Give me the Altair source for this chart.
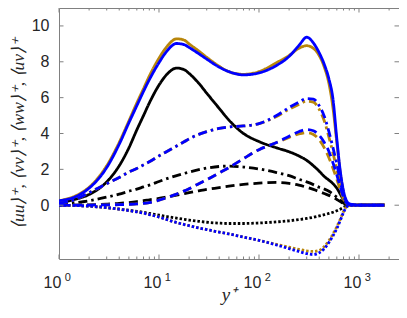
import altair as alt
import pandas as pd

# ---------------- data ----------------
yplus = [1, 1.5, 2, 3, 4, 5, 6, 7, 8, 10, 12, 15, 18, 20, 25, 30, 40, 50, 70, 100,
         150, 200, 250, 300, 350, 400, 450, 500, 550, 600, 650, 700, 750, 800, 900,
         1000, 1200, 1500, 1800]

# black
uu_k = [0.15, 0.35, 0.6, 1.3, 2.2, 3.2, 4.2, 5.0, 5.7, 6.7, 7.3, 7.65, 7.55, 7.35, 6.8, 6.25, 5.4, 4.75, 4.0, 3.55,
        3.2, 2.98, 2.75, 2.5, 2.2, 1.9, 1.6, 1.4, 1.2, 0.95, 0.62, 0.3, 0.08, 0.01, 0, 0, 0, 0, 0]
vv_k = [0, 0.01, 0.02, 0.06, 0.1, 0.15, 0.2, 0.25, 0.3, 0.38, 0.46, 0.56, 0.65, 0.7, 0.8, 0.88, 0.98, 1.06, 1.16, 1.23,
        1.27, 1.22, 1.12, 1.0, 0.88, 0.76, 0.65, 0.55, 0.43, 0.32, 0.2, 0.08, 0.02, 0, 0, 0, 0, 0, 0]
ww_k = [0.05, 0.15, 0.25, 0.45, 0.62, 0.78, 0.9, 1.02, 1.12, 1.32, 1.48, 1.65, 1.78, 1.85, 1.98, 2.07, 2.16, 2.18, 2.13, 2.02,
        1.82, 1.65, 1.45, 1.3, 1.15, 1.0, 0.9, 0.78, 0.62, 0.45, 0.28, 0.12, 0.03, 0, 0, 0, 0, 0, 0]
uv_k = [0, -0.02, -0.05, -0.14, -0.22, -0.28, -0.34, -0.4, -0.46, -0.55, -0.63, -0.72, -0.79, -0.83, -0.9, -0.95, -1.0, -1.02, -1.02, -0.99,
        -0.93, -0.87, -0.8, -0.74, -0.67, -0.6, -0.53, -0.46, -0.39, -0.31, -0.22, -0.12, -0.04, 0, 0, 0, 0, 0, 0]

# brown
uu_b = [0.25, 0.55, 1.0, 2.2, 3.5, 4.7, 5.7, 6.5, 7.2, 8.2, 8.85, 9.28, 9.2, 9.0, 8.6, 8.25, 7.75, 7.45, 7.3, 7.45,
        7.95, 8.35, 8.75, 8.9, 8.75, 8.35, 7.7, 6.8, 5.4, 3.5, 1.8, 0.7, 0.2, 0.06, 0.02, 0, 0, 0, 0]
vv_b = [0, 0, 0.01, 0.02, 0.03, 0.05, 0.07, 0.1, 0.15, 0.28, 0.42, 0.62, 0.8, 0.92, 1.2, 1.42, 1.8, 2.1, 2.6, 3.1,
        3.5, 3.78, 3.98, 4.05, 3.95, 3.65, 3.2, 2.65, 2.05, 1.45, 0.85, 0.35, 0.08, 0.02, 0, 0, 0, 0, 0]
ww_b = [0.1, 0.35, 0.7, 1.2, 1.55, 1.85, 2.05, 2.25, 2.42, 2.75, 3.0, 3.3, 3.55, 3.7, 3.95, 4.1, 4.28, 4.36, 4.42, 4.55,
        4.95, 5.35, 5.62, 5.8, 5.75, 5.35, 4.7, 3.8, 2.9, 2.0, 1.1, 0.4, 0.1, 0.03, 0, 0, 0, 0, 0]
uv_b = [0, -0.02, -0.05, -0.14, -0.22, -0.3, -0.37, -0.44, -0.52, -0.66, -0.8, -0.97, -1.08, -1.14, -1.27, -1.36, -1.5, -1.6, -1.78, -1.96,
        -2.18, -2.34, -2.46, -2.55, -2.58, -2.52, -2.3, -1.98, -1.6, -1.2, -0.78, -0.36, -0.08, -0.02, 0, 0, 0, 0, 0]

# blue
uu_bl = [0.25, 0.5, 0.95, 2.1, 3.4, 4.6, 5.55, 6.35, 7.0, 7.95, 8.6, 9.02, 8.95, 8.8, 8.45, 8.15, 7.7, 7.45, 7.27, 7.38,
         7.8, 8.3, 8.9, 9.37, 9.05, 8.5, 7.85, 7.05, 5.9, 3.7, 1.9, 0.8, 0.25, 0.08, 0.02, 0, 0, 0, 0]
vv_bl = [0, 0, 0.01, 0.02, 0.03, 0.05, 0.07, 0.1, 0.15, 0.28, 0.42, 0.62, 0.8, 0.92, 1.2, 1.42, 1.8, 2.1, 2.6, 3.1,
         3.5, 3.85, 4.1, 4.22, 4.15, 3.9, 3.5, 3.0, 2.35, 1.7, 1.0, 0.45, 0.12, 0.04, 0.01, 0, 0, 0, 0]
ww_bl = [0.1, 0.35, 0.7, 1.2, 1.55, 1.85, 2.05, 2.25, 2.42, 2.75, 3.0, 3.3, 3.55, 3.7, 3.95, 4.1, 4.28, 4.36, 4.42, 4.55,
         5.0, 5.45, 5.75, 5.95, 5.92, 5.55, 4.95, 4.1, 3.2, 2.3, 1.35, 0.55, 0.15, 0.05, 0.01, 0, 0, 0, 0]
uv_bl = [0, -0.02, -0.05, -0.14, -0.22, -0.3, -0.37, -0.44, -0.52, -0.66, -0.8, -0.97, -1.08, -1.14, -1.27, -1.36, -1.5, -1.6, -1.78, -1.96,
         -2.22, -2.42, -2.58, -2.7, -2.75, -2.65, -2.42, -2.08, -1.7, -1.3, -0.85, -0.4, -0.1, -0.02, 0, 0, 0, 0, 0]

y_tick_values = [0, 2, 4, 6, 8, 10]
x_tick_values = [1, 10, 100, 1000]
x_tick_exps = ["0", "1", "2", "3"]
x_minor_ticks = [2, 3, 4, 5, 6, 7, 8, 9, 20, 30, 40, 50, 60, 70, 80, 90,
                 200, 300, 400, 500, 600, 700, 800, 900, 2000]
y_title = "⟨uu⟩⁺, ⟨vv⟩⁺, ⟨ww⟩⁺, ⟨uv⟩⁺"
x_title = "y⁺"

groups = {
    "black": [("uu", uu_k), ("vv", vv_k), ("ww", ww_k), ("uv", uv_k)],
    "brown": [("uu", uu_b), ("vv", vv_b), ("ww", ww_b), ("uv", uv_b)],
    "blue": [("uu", uu_bl), ("vv", vv_bl), ("ww", ww_bl), ("uv", uv_bl)],
}
colors = {"black": "#000000", "brown": "#B8860B", "blue": "#0000FF"}

rows = []
for g, lst in groups.items():
    for comp, vals in lst:
        for x, v in zip(yplus, vals):
            rows.append({"g": g, "comp": comp, "yp": x, "v": v})
df = pd.DataFrame(rows)

# ---------------- chart ----------------
W, H = 340, 251
FRAME = "#808080"
TXT = "#262626"
xscale = alt.Scale(type="log", domain=[1, 2512], nice=False)
yscale = alt.Scale(domain=[-3, 11], nice=False, zero=False)
dash_scale = alt.Scale(domain=["uu", "vv", "ww", "uv"],
                       range=[[1, 0], [9, 5], [9, 4, 2.5, 4], [2.5, 2]])

xaxis = alt.Axis(values=x_tick_values, labels=False, ticks=False, domain=False, grid=False, title=None)
yaxis = alt.Axis(values=y_tick_values, ticks=False, domain=False, grid=False,
                 labelFont="Liberation Sans", labelFontSize=16, labelColor=TXT,
                 labelPadding=10, title=None)


def line_layer(g):
    return alt.Chart(df[df.g == g]).mark_line(
        color=colors[g], strokeWidth=2.8, interpolate="monotone", clip=True
    ).encode(
        x=alt.X("yp:Q", scale=xscale, axis=xaxis),
        y=alt.Y("v:Q", scale=yscale, axis=yaxis),
        strokeDash=alt.StrokeDash("comp:N", scale=dash_scale, legend=None),
    )


lines = [line_layer(g) for g in ["black", "brown", "blue"]]

ydf = pd.DataFrame({"v": y_tick_values})
xdf = pd.DataFrame({"yp": x_tick_values, "e": x_tick_exps})
xmdf = pd.DataFrame({"yp": x_minor_ticks})

yt_left = alt.Chart(ydf).mark_rule(color=FRAME, strokeWidth=1).encode(
    y=alt.Y("v:Q", scale=yscale, axis=yaxis), x=alt.value(0), x2=alt.value(4.5))
yt_right = alt.Chart(ydf).mark_rule(color=FRAME, strokeWidth=1).encode(
    y=alt.Y("v:Q", scale=yscale, axis=yaxis), x=alt.value(W - 4.5), x2=alt.value(W))
xt_bot = alt.Chart(xdf).mark_rule(color=FRAME, strokeWidth=1).encode(
    x=alt.X("yp:Q", scale=xscale, axis=xaxis), y=alt.value(H), y2=alt.value(H - 4.5))
xt_top = alt.Chart(xdf).mark_rule(color=FRAME, strokeWidth=1).encode(
    x=alt.X("yp:Q", scale=xscale, axis=xaxis), y=alt.value(0), y2=alt.value(4.5))
xm_bot = alt.Chart(xmdf).mark_rule(color=FRAME, strokeWidth=1).encode(
    x=alt.X("yp:Q", scale=xscale, axis=xaxis), y=alt.value(H), y2=alt.value(H - 2.5))
xm_top = alt.Chart(xmdf).mark_rule(color=FRAME, strokeWidth=1).encode(
    x=alt.X("yp:Q", scale=xscale, axis=xaxis), y=alt.value(0), y2=alt.value(2.5))

xl_base = alt.Chart(xdf).mark_text(
    text="10", font="Liberation Sans", fontSize=16, color=TXT,
    align="center", baseline="alphabetic", dx=-6.5
).encode(x=alt.X("yp:Q", scale=xscale, axis=xaxis), y=alt.value(H + 29))
xl_exp = alt.Chart(xdf).mark_text(
    font="Liberation Sans", fontSize=11, color=TXT,
    align="center", baseline="alphabetic", dx=8.8
).encode(x=alt.X("yp:Q", scale=xscale, axis=xaxis), y=alt.value(H + 22), text="e:N")

ytitle = alt.Chart(pd.DataFrame({"t": [y_title]})).mark_text(
    font="Liberation Serif", fontStyle="italic", fontSize=17.5, color=TXT,
    angle=270, align="center", baseline="middle"
).encode(x=alt.value(-40), y=alt.value(H / 2), text="t:N")
xtitle = alt.Chart(pd.DataFrame({"t": [x_title]})).mark_text(
    font="Liberation Serif", fontStyle="italic", fontSize=19, color=TXT,
    align="center", baseline="alphabetic"
).encode(x=alt.value(W / 2), y=alt.value(H + 42), text="t:N")

chart = alt.layer(
    *lines, yt_left, yt_right, xt_bot, xt_top, xm_bot, xm_top, xl_base, xl_exp, ytitle, xtitle
).properties(
    width=W, height=H,
    autosize=alt.AutoSizeParams(type="none"),
    padding={"left": 51, "top": 0, "right": 0, "bottom": 47},
).configure_view(stroke=FRAME, strokeWidth=1)

chart.save("out.html", embed_options={"renderer": "svg", "actions": False})
